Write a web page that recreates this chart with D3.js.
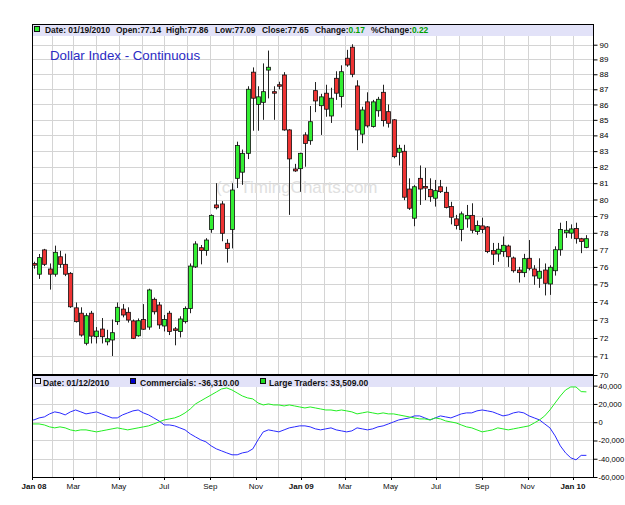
<!DOCTYPE html>
<html>
<head>
<meta charset="utf-8">
<script src="https://cdn.jsdelivr.net/npm/d3@7"></script>
<style>
  body { margin: 0; background: #fff; }
  text { font-family: "Liberation Sans", Arial, sans-serif; }
</style>
</head>
<body>
<script>
// weekly bars, Tuesday dated, Jan 1 2008 .. Jan 19 2010
var opens = [76.3,76.2,75.58,76.99,75.88,75.58,76.59,76.15,75.63,73.67,
  73.37,71.71,73.37,72.07,72.49,71.79,71.89,72.9,73.6,73.42,
  72.94,72.12,73.02,72.6,74.15,73.83,72.66,73.37,72.5,72.36,
  72.9,73.63,76.0,77.12,76.95,78.2,79.67,79.73,77.38,78.2,
  81.3,81.68,82.86,88.14,86.0,86.14,88.28,86.84,87.3,87.95,
  84.35,81.88,81.9,84.03,83.66,86.91,85.92,86.74,85.25,87.73,
  86.52,89.08,89.83,87.22,84.08,86.17,84.57,85.59,86.8,85.53,
  85.0,82.93,82.99,80.64,78.87,81.3,80.8,80.62,80.08,80.78,
  80.44,79.57,78.83,78.2,78.83,79.04,78.07,78.41,78.35,76.95,
  76.75,76.89,77.22,76.52,75.82,75.67,76.5,75.88,75.35,75.82,
  75.02,75.78,77.0,78.0,77.98,78.26,77.65,77.14];
var highs = [76.6,76.3,76.75,77.05,76.2,77.24,76.94,76.77,75.7,73.97,
  73.7,73.37,73.5,72.6,73.1,72.45,73.02,73.97,73.88,73.7,
  73.02,73.08,73.88,74.75,74.25,74.0,73.27,73.5,72.6,73.2,
  73.75,76.2,77.5,77.28,77.68,79.1,81.0,79.9,77.62,81.0,
  83.6,83.1,87.2,88.46,87.2,88.73,89.6,87.2,87.5,88.14,
  84.4,82.2,82.9,84.2,85.9,87.48,86.7,87.3,87.1,88.2,
  88.6,89.65,90.03,87.6,85.85,86.8,86.3,86.5,87.3,86.0,
  85.05,83.4,83.4,81.3,80.88,82.1,81.95,81.3,81.2,81.2,
  80.78,79.86,79.07,79.27,79.67,79.77,78.73,78.9,78.4,77.4,
  77.4,77.78,77.3,76.6,76.0,76.76,77.57,76.1,76.5,76.2,
  76.1,77.2,78.6,78.7,78.5,78.6,77.7,77.86];
var lows = [75.9,75.9,75.31,76.05,74.7,75.44,75.95,75.47,73.67,72.85,
  72.07,71.6,71.7,71.7,71.7,71.6,71.02,72.72,73.14,72.85,
  71.94,72.07,72.45,72.45,73.3,72.5,72.36,72.16,71.6,72.03,
  72.8,73.37,75.94,76.15,76.65,78.0,79.4,77.5,76.25,77.08,
  80.7,80.9,82.5,84.3,84.3,85.0,86.4,85.0,87.0,84.3,
  79.07,81.7,80.47,82.02,83.4,85.5,84.03,85.2,84.8,86.3,
  85.8,88.5,87.8,83.06,83.5,84.5,84.5,85.2,84.57,84.5,
  82.55,82.1,79.96,79.37,78.39,79.67,79.96,79.86,79.57,80.4,
  79.46,78.5,78.2,77.5,78.3,77.97,77.88,77.97,76.8,76.11,
  76.3,76.59,76.0,75.67,75.1,75.41,75.8,74.97,74.8,74.37,
  74.4,75.5,76.65,77.7,77.65,77.36,76.8,77.09];
var closes = [76.2,76.1,76.54,76.15,75.58,76.85,76.15,75.58,73.73,72.9,
  72.16,73.23,72.1,72.38,72.07,71.96,72.29,73.7,73.27,72.99,
  71.98,72.95,72.48,74.68,73.45,72.72,73.02,72.36,72.45,73.05,
  73.63,76.05,77.34,76.95,77.57,79.04,79.5,77.97,77.08,80.58,
  83.35,82.86,87.0,86.41,86.5,86.84,88.47,86.74,87.25,84.35,
  82.51,81.76,82.86,83.49,84.88,86.23,86.5,85.69,86.41,86.74,
  88.17,88.62,88.0,84.35,85.64,84.61,86.17,86.34,84.95,84.78,
  82.65,83.18,80.14,79.47,80.78,80.64,80.7,80.17,80.54,80.48,
  79.52,78.93,78.43,79.13,79.04,78.15,78.43,78.2,76.89,76.74,
  77.03,77.26,76.59,75.78,75.67,76.48,75.92,75.48,75.75,75.06,
  75.98,77.0,78.2,78.15,78.23,77.65,77.48,77.65];

// COT net positions, thousands of contracts
var commercials = [2.5,2.5,4.7,5.8,9.1,11.3,10.2,8.0,11.3,13.4,
  11.3,9.1,10.2,11.3,9.1,6.9,4.7,4.7,8.0,10.2,
  12.4,13.4,10.2,8.0,4.7,1.4,-3.0,-3.0,-4.0,-6.2,
  -8.4,-12.8,-16.1,-19.3,-21.5,-25.9,-29.2,-31.4,-33.6,-35.7,
  -35.7,-33.6,-32.5,-29.2,-19.3,-10.6,-8.4,-9.5,-10.6,-8.4,
  -6.2,-5.1,-4.0,-4.0,-5.1,-7.3,-8.4,-7.3,-6.2,-8.4,
  -9.5,-10.6,-9.5,-6.2,-7.3,-8.4,-7.3,-5.1,-4.0,-1.9,
  0.3,2.5,3.6,4.7,6.9,6.9,4.7,2.5,4.7,6.9,
  5.8,4.7,6.9,9.1,10.2,10.2,12.4,13.4,12.4,11.3,
  9.1,6.9,8.0,10.2,11.3,10.2,6.9,4.7,2.5,-1.9,
  -6.2,-15.0,-25.9,-33.6,-39.0,-41.2,-36.31,-36.3];
var largeTraders = [-1.9,-1.9,-1.9,-3.0,-5.1,-6.2,-5.1,-6.2,-8.4,-9.5,
  -8.4,-8.4,-9.5,-10.6,-9.5,-8.4,-7.3,-6.2,-7.3,-8.4,
  -7.3,-6.2,-5.1,-4.0,-1.9,0.3,2.5,3.6,4.7,6.9,
  10.2,14.5,20.0,23.3,26.6,29.8,33.1,36.4,37.5,35.3,
  32.0,28.7,26.6,25.5,21.1,18.9,20.0,18.9,18.9,17.8,
  18.9,17.8,16.7,15.6,16.7,15.6,14.5,13.4,13.4,12.4,
  13.4,12.4,11.3,9.1,10.2,11.3,10.2,9.1,10.2,9.1,
  9.1,8.0,6.9,5.8,4.7,3.6,3.6,2.5,4.7,3.6,
  1.4,0.3,-0.8,-3.0,-5.1,-6.2,-8.4,-10.6,-9.5,-8.4,
  -6.2,-7.3,-8.4,-7.3,-6.2,-5.1,-4.0,-0.8,2.5,6.9,
  13.4,21.1,28.7,35.3,38.6,38.6,33.509,33.2];

var priceTicks = d3.range(70, 91);
var cotTicks = [-60, -40, -20, 0, 20, 40];

var weeks = d3.utcTuesday.range(Date.UTC(2008, 0, 1), Date.UTC(2010, 0, 20));

var left = 32, right = 593, plotTop = 24, sep = 375, bottom = 477;

var x = d3.scaleUtc()
    .domain([Date.UTC(2008, 0, 1), Date.UTC(2010, 0, 1)])
    .range([28.7, 573]);
var y = d3.scaleLog().domain([70, 91.43]).range([sep, plotTop]);
var y2 = d3.scaleLinear().domain([-60, 50.6]).range([bottom, sep + 1]);

var svg = d3.select("body").append("svg")
    .attr("width", 625)
    .attr("height", 505);

var defs = svg.append("defs");
defs.append("clipPath").attr("id", "clipTop")
  .append("rect").attr("x", left).attr("y", plotTop).attr("width", right - left).attr("height", sep - plotTop);
defs.append("clipPath").attr("id", "clipBot")
  .append("rect").attr("x", left).attr("y", sep).attr("width", right - left).attr("height", bottom - sep);

var gridColor = "#d4d4d4";
var months = d3.utcMonth.range(Date.UTC(2008, 0, 1), Date.UTC(2010, 1, 1))
    .filter(function(d) { return x(d) > left + 1 && x(d) < right - 1; });

// grid
var grid = svg.append("g").attr("stroke", gridColor).attr("stroke-width", 1);
grid.selectAll(".hg").data(priceTicks).enter().append("line")
    .attr("x1", left).attr("x2", right)
    .attr("y1", function(d) { return Math.round(y(d)) + 0.5; })
    .attr("y2", function(d) { return Math.round(y(d)) + 0.5; });
grid.selectAll(".hg2").data(cotTicks).enter().append("line")
    .attr("x1", left).attr("x2", right)
    .attr("y1", function(d) { return Math.round(y2(d)) + 0.5; })
    .attr("y2", function(d) { return Math.round(y2(d)) + 0.5; });
grid.selectAll(".vg").data(months).enter().append("line")
    .attr("x1", function(d) { return Math.round(x(d)) + 0.5; })
    .attr("x2", function(d) { return Math.round(x(d)) + 0.5; })
    .attr("y1", plotTop).attr("y2", bottom);

// header strips
svg.append("rect").attr("x", left + 1).attr("y", plotTop + 1)
    .attr("width", right - left - 1).attr("height", 11).attr("fill", "#e2e2f8");
svg.append("rect").attr("x", left + 1).attr("y", sep + 1)
    .attr("width", right - left - 1).attr("height", 11).attr("fill", "#e2e2f8");

// watermark
svg.append("text")
    .attr("x", 216).attr("y", 193)
    .attr("font-size", 17)
    .attr("fill", "#e0e0e0")
    .text("(c) TimingCharts.com");

// title
svg.append("text")
    .attr("x", 50).attr("y", 60)
    .attr("font-size", 13.3)
    .attr("fill", "#2b2bc4")
    .text("Dollar Index - Continuous");

// candles
var up = "#33ee33", down = "#ee3333";
var candles = svg.append("g").attr("clip-path", "url(#clipTop)");
var idx = d3.range(weeks.length);
candles.selectAll(".wick").data(idx).enter().append("line")
    .attr("x1", function(i) { return Math.round(x(weeks[i])) + 0.5; })
    .attr("x2", function(i) { return Math.round(x(weeks[i])) + 0.5; })
    .attr("y1", function(i) { return y(highs[i]); })
    .attr("y2", function(i) { return y(lows[i]); })
    .attr("stroke", "#222").attr("stroke-width", 1);
candles.selectAll(".body").data(idx).enter().append("rect")
    .attr("x", function(i) { return Math.round(x(weeks[i])) - 1.5; })
    .attr("width", 4)
    .attr("y", function(i) { return y(Math.max(opens[i], closes[i])); })
    .attr("height", function(i) { return Math.max(1.5, Math.abs(y(opens[i]) - y(closes[i]))); })
    .attr("fill", function(i) { return closes[i] >= opens[i] ? up : down; })
    .attr("stroke", "#111").attr("stroke-width", 0.8);

// COT lines
var cot = svg.append("g").attr("clip-path", "url(#clipBot)").attr("fill", "none").attr("stroke-width", 1);
cot.append("path").datum(commercials)
    .attr("stroke", "#2a2aff")
    .attr("d", d3.line().x(function(d, i) { return x(weeks[i]); }).y(function(d) { return y2(d); }));
cot.append("path").datum(largeTraders)
    .attr("stroke", "#22ee22")
    .attr("d", d3.line().x(function(d, i) { return x(weeks[i]); }).y(function(d) { return y2(d); }));

// header texts
var last = weeks.length - 1;
var hdr = svg.append("g").attr("font-size", 8.4).attr("font-weight", "bold").attr("fill", "#111");
hdr.append("rect").attr("x", 34.5).attr("y", 26.5).attr("width", 5).attr("height", 5)
    .attr("fill", up).attr("stroke", "#111").attr("stroke-width", 1);
hdr.append("text").attr("x", 45).attr("y", 33).text("Date: " + d3.utcFormat("%m/%d/%Y")(weeks[last]));
hdr.append("text").attr("x", 116).attr("y", 33).text("Open:" + opens[last].toFixed(2));
hdr.append("text").attr("x", 166).attr("y", 33).text("High:" + highs[last].toFixed(2));
hdr.append("text").attr("x", 215).attr("y", 33).text("Low:" + lows[last].toFixed(2));
hdr.append("text").attr("x", 262).attr("y", 33).text("Close:" + closes[last].toFixed(2));
var chg = closes[last] - closes[last - 1];
var t1 = hdr.append("text").attr("x", 315).attr("y", 33);
t1.append("tspan").text("Change:");
t1.append("tspan").attr("fill", "#00a000").text(chg.toFixed(2));
var t2 = hdr.append("text").attr("x", 371).attr("y", 33);
t2.append("tspan").text("%Change:");
t2.append("tspan").attr("fill", "#00a000").text((chg / closes[last - 1] * 100).toFixed(2));

var cotIdx = last - 1;
var fmt2 = d3.format(",.2f");
var hdr2 = svg.append("g").attr("font-size", 8.5).attr("font-weight", "bold").attr("fill", "#111");
hdr2.append("rect").attr("x", 35.5).attr("y", 378.5).attr("width", 5).attr("height", 5)
    .attr("fill", "#fff").attr("stroke", "#111").attr("stroke-width", 1);
hdr2.append("text").attr("x", 43).attr("y", 386).text("Date: " + d3.utcFormat("%m/%d/%Y")(weeks[cotIdx]));
hdr2.append("rect").attr("x", 130.5).attr("y", 378.5).attr("width", 5).attr("height", 5)
    .attr("fill", "#0000cc").attr("stroke", "#111").attr("stroke-width", 1);
hdr2.append("text").attr("x", 140).attr("y", 386)
    .text("Commercials: " + fmt2(Math.round(commercials[cotIdx] * 1000)).replace("\u2212", "-"));
hdr2.append("rect").attr("x", 260.5).attr("y", 378.5).attr("width", 5).attr("height", 5)
    .attr("fill", "#22dd22").attr("stroke", "#111").attr("stroke-width", 1);
hdr2.append("text").attr("x", 269).attr("y", 386)
    .text("Large Traders: " + fmt2(Math.round(largeTraders[cotIdx] * 1000)));

// frame
var frame = svg.append("g").attr("stroke", "#000").attr("fill", "none");
frame.append("line").attr("x1", left + 0.5).attr("x2", left + 0.5).attr("y1", plotTop).attr("y2", bottom);
frame.append("line").attr("x1", left).attr("x2", right).attr("y1", plotTop + 0.5).attr("y2", plotTop + 0.5);
frame.append("line").attr("x1", left).attr("x2", right).attr("y1", sep).attr("y2", sep).attr("stroke-width", 2);
frame.append("line").attr("x1", left).attr("x2", right + 1).attr("y1", bottom + 0.5).attr("y2", bottom + 0.5);

// right axes
svg.append("g")
    .attr("transform", "translate(" + (right + 0.5) + ",0)")
    .call(d3.axisRight(y).tickValues(priceTicks).tickSize(4).tickPadding(2).tickFormat(d3.format("d")))
    .call(function(g) { g.select(".domain").attr("d", "M0," + plotTop + "V" + sep); })
    .attr("font-size", 8).attr("font-family", "Liberation Sans, Arial, sans-serif");
svg.append("g")
    .attr("transform", "translate(" + (right + 0.5) + ",0)")
    .call(d3.axisRight(y2).tickValues(cotTicks).tickSize(4).tickPadding(1)
        .tickFormat(function(d) { return d3.format(",")(d * 1000).replace("\u2212", "-"); }))
    .call(function(g) { g.select(".domain").attr("d", "M0," + sep + "V" + (bottom + 0.5)); })
    .attr("font-size", 7.6).attr("font-family", "Liberation Sans, Arial, sans-serif");

// bottom axis
var labelMonths = d3.utcMonth.every(2).range(Date.UTC(2008, 0, 1), Date.UTC(2010, 1, 1));
var xa = svg.append("g").attr("font-size", 8).attr("text-anchor", "middle");
xa.selectAll(".xt").data(labelMonths).enter().append("line")
    .attr("x1", function(d) { return Math.max(left, Math.round(x(d))) + 0.5; })
    .attr("x2", function(d) { return Math.max(left, Math.round(x(d))) + 0.5; })
    .attr("y1", bottom).attr("y2", bottom + 3)
    .attr("stroke", "#000");
xa.selectAll(".xl").data(labelMonths).enter().append("text")
    .attr("x", function(d) { return Math.max(x(d), left + 2); })
    .attr("y", 489)
    .attr("font-weight", function(d) { return d.getUTCMonth() === 0 ? "bold" : "normal"; })
    .attr("fill", "#111")
    .text(function(d) { return d.getUTCMonth() === 0 ? d3.utcFormat("%b %y")(d) : d3.utcFormat("%b")(d); });
</script>
</body>
</html>
